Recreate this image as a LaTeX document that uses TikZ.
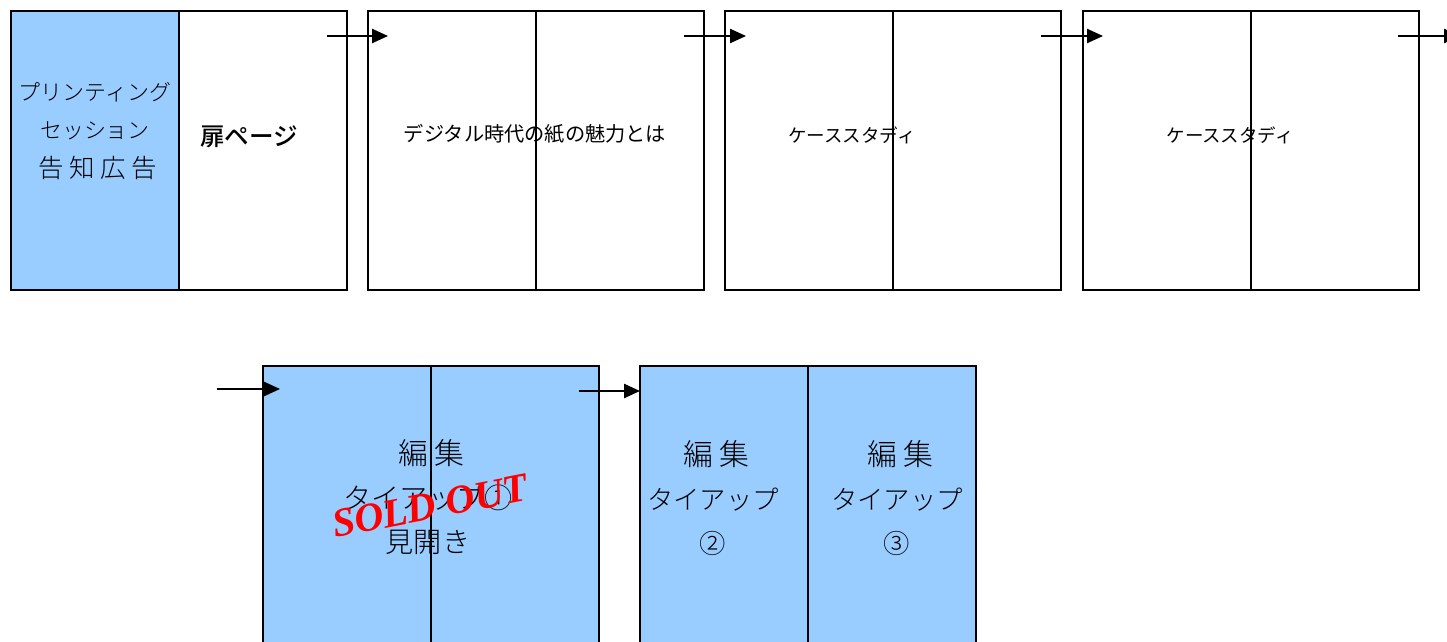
\documentclass[tikz,border=0pt]{standalone}
\usepackage{fontspec}
\usetikzlibrary{arrows.meta}
\newfontfamily\gothic{Noto Sans CJK JP}
\newfontfamily\gothicmed{Noto Sans CJK JP}[UprightFont=* Medium]
\newfontfamily\thin{Noto Sans CJK JP}[UprightFont=* Light]
\newfontfamily\thinwide{Noto Sans CJK JP}[UprightFont=* Light,LetterSpace=22]
\newfontfamily\soldfont{Liberation Serif}
\definecolor{pageblue}{RGB}{153,204,255}

\begin{document}
\begin{tikzpicture}
  [x=0.02cm,y=-0.02cm,
   halfpage/.style={draw,line width=1pt,minimum width=3.36cm,minimum height=5.58cm,inner sep=0pt},
   bluepage/.style={halfpage,fill=pageblue},
   flow/.style={line width=1pt,-{Triangle[length=9pt,width=8pt]}}]
  \useasboundingbox (0,0) rectangle (1447,642);
  \clip (0,0) rectangle (1447,642);

  % top row
  \node[bluepage] (p1l) at (95,150.5) {};
  \node[halfpage] (p1r) at (263,150.5) {};
  \node[halfpage] (p2l) at (452,150.5) {};
  \node[halfpage] (p2r) at (620,150.5) {};
  \node[halfpage] (p3l) at (809,150.5) {};
  \node[halfpage] (p3r) at (977,150.5) {};
  \node[halfpage] (p4l) at (1167,150.5) {};
  \node[halfpage] (p4r) at (1335,150.5) {};

  % bottom row
  \node[bluepage] (p5l) at (347,505.5) {};
  \node[bluepage] (p5r) at (515,505.5) {};
  \node[bluepage] (p6l) at (724,505.5) {};
  \node[bluepage] (p6r) at (892,505.5) {};

  % labels
  \node[align=center,font=\thin\fontsize{12.5}{22}\selectfont] (t1) at (95,131)
    {プリンティング\\セッション\\{\thinwide\fontsize{14.5}{22}\selectfont\hspace{3pt}告知広告}};
  \node[font=\gothicmed\fontsize{14}{16}\selectfont] (t2) at (249,137) {扉ページ};
  \node[font=\gothic\fontsize{11.5}{14}\selectfont] (t3) at (535,134) {デジタル時代の紙の魅力とは};
  \node[font=\gothic\fontsize{10.5}{13}\selectfont] (t4) at (852,135) {ケーススタディ};
  \node[font=\gothic\fontsize{10.5}{13}\selectfont] (t5) at (1230,135) {ケーススタディ};
  \node[align=center,font=\thin\fontsize{16}{25}\selectfont] (t6) at (428,497)
    {{\thinwide\fontsize{17}{25}\selectfont\hspace{4pt}編集}\\タイアップ①\\見開き};
  \node[align=center,font=\thin\fontsize{15}{25}\selectfont] (t7) at (713,498)
    {{\thinwide\fontsize{17}{25}\selectfont\hspace{4pt}編集}\\タイアップ\\②};
  \node[align=center,font=\thin\fontsize{15}{25}\selectfont] (t8) at (897,498)
    {{\thinwide\fontsize{17}{25}\selectfont\hspace{4pt}編集}\\タイアップ\\③};
  \node[rotate=11,text=red,font=\soldfont\bfseries\itshape\fontsize{23}{24}\selectfont] (sold) at (430,506) {SOLD OUT};

  % arrows
  \coordinate (a1s) at (327,36);
  \coordinate (a1e) at (388,36);
  \coordinate (a2s) at (684,36);
  \coordinate (a2e) at (746,36);
  \coordinate (a3s) at (1041,36);
  \coordinate (a3e) at (1103,36);
  \coordinate (a4s) at (1398,36);
  \coordinate (a4e) at (1460,36);
  \coordinate (a5s) at (217,389);
  \coordinate (a5e) at (280,389);
  \coordinate (a6s) at (579,391);
  \coordinate (a6e) at (640,391);

  \draw[flow] (a1s) -- (a1e);
  \draw[flow] (a2s) -- (a2e);
  \draw[flow] (a3s) -- (a3e);
  \draw[flow] (a4s) -- (a4e);
  \draw[flow] (a5s) -- (a5e);
  \draw[flow] (a6s) -- (a6e);
\end{tikzpicture}
\end{document}
